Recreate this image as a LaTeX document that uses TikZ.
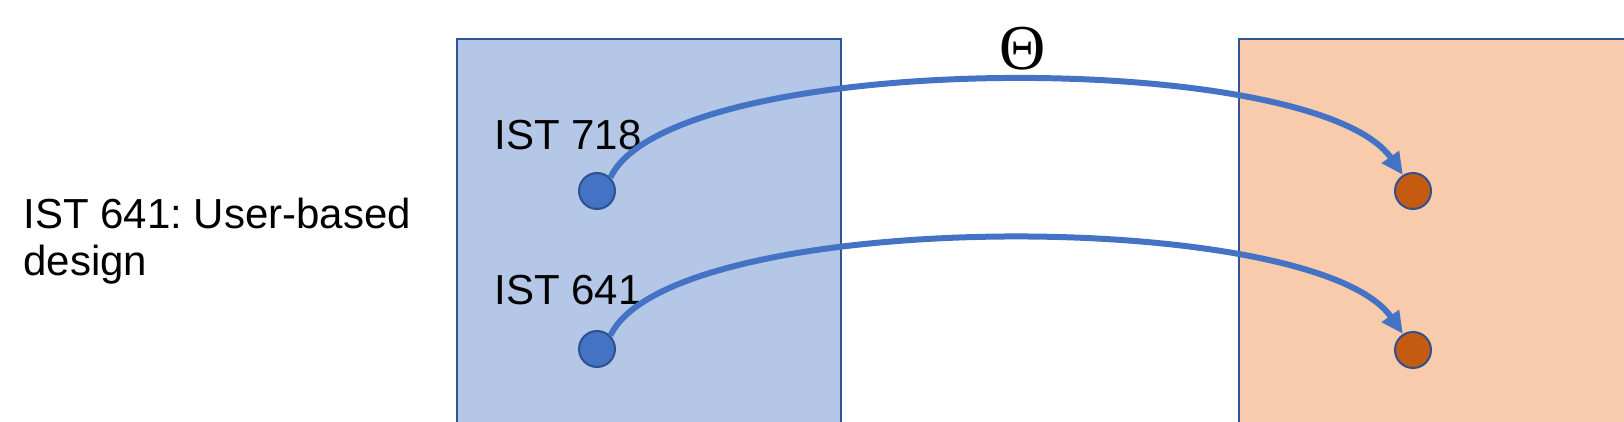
\documentclass[tikz,border=0pt]{standalone}
\usepackage{fontspec}
\setmainfont{Liberation Sans}
\newfontfamily\thetafont{Liberation Serif}
\usetikzlibrary{arrows.meta}
\frenchspacing
\definecolor{boxblue}{HTML}{B4C7E7}
\definecolor{boxorange}{HTML}{F8CBAD}
\definecolor{edgeblue}{HTML}{2F5597}
\definecolor{dotblue}{HTML}{4472C4}
\definecolor{dotorange}{HTML}{C55A11}
\definecolor{rimblue}{HTML}{2F528F}
\tikzset{
    dot/.style = {circle, minimum size=18pt, inner sep=0pt, draw=rimblue, line width=1pt},
    map/.style = {draw=dotblue, line width=3pt, -{Triangle[length=11pt,width=10pt]}},
    lbl/.style = {anchor=base west, inner sep=0pt}
}
\begin{document}
\begin{tikzpicture}[x=0.5pt, y=-0.5pt, font=\fontsize{21}{23.5}\selectfont]
    \useasboundingbox (0,0) rectangle (1624,422);
    % the two sets
    \filldraw[fill=boxblue, draw=edgeblue, line width=1pt] (457,39) rectangle (841,440);
    \filldraw[fill=boxorange, draw=edgeblue, line width=1pt] (1239,39) rectangle (1660,440);
    \node[lbl] (course) at (23,229) {
        \begin{tabular}[t]{@{}l@{}}
            IST 641: User-based \\
            design \\
        \end{tabular}
    };
    \node[lbl] (n718) at (494,150) {IST 718};
    \node[lbl] (n641) at (494,305) {IST 641};
    \node[dot, fill=dotblue] (u1) at (597,191) {};
    \node[dot, fill=dotblue] (u2) at (597,349) {};
    \node[dot, fill=dotorange] (v1) at (1413,191) {};
    \node[dot, fill=dotorange] (v2) at (1413,350) {};
    \node (theta) at (1023,48.5) {\thetafont\fontsize{32}{32}\selectfont Θ};
    \draw[map] (u1.45) .. controls +(60,-128) and +(-90,-128) .. (v1.122);
    \draw[map] (u2.45) .. controls +(60,-128) and +(-90,-128) .. (v2.122);
\end{tikzpicture}
\end{document}
